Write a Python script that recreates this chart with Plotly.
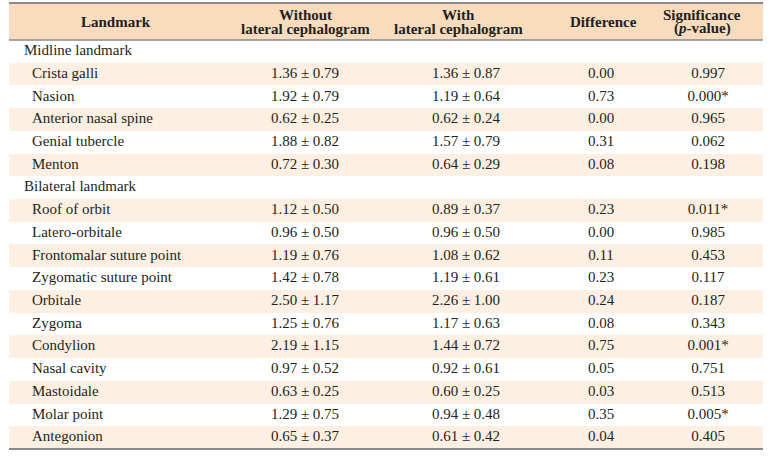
import plotly.graph_objects as go

headers = ["<b>Landmark</b>", "<b>Without<br>lateral cephalogram</b>",
           "<b>With<br>lateral cephalogram</b>", "<b>Difference</b>",
           "<b>Significance<br>(<i>p</i>-value)</b>"]

landmarks = ["Midline landmark", "Crista galli", "Nasion", "Anterior nasal spine",
             "Genial tubercle", "Menton", "Bilateral landmark", "Roof of orbit",
             "Latero-orbitale", "Frontomalar suture point", "Zygomatic suture point",
             "Orbitale", "Zygoma", "Condylion", "Nasal cavity", "Mastoidale",
             "Molar point", "Antegonion"]
is_group = [True, False, False, False, False, False, True, False, False, False,
            False, False, False, False, False, False, False, False]
without_ceph = ["", "1.36 ± 0.79", "1.92 ± 0.79", "0.62 ± 0.25", "1.88 ± 0.82", "0.72 ± 0.30",
                "", "1.12 ± 0.50", "0.96 ± 0.50", "1.19 ± 0.76", "1.42 ± 0.78", "2.50 ± 1.17",
                "1.25 ± 0.76", "2.19 ± 1.15", "0.97 ± 0.52", "0.63 ± 0.25", "1.29 ± 0.75",
                "0.65 ± 0.37"]
with_ceph = ["", "1.36 ± 0.87", "1.19 ± 0.64", "0.62 ± 0.24", "1.57 ± 0.79", "0.64 ± 0.29",
             "", "0.89 ± 0.37", "0.96 ± 0.50", "1.08 ± 0.62", "1.19 ± 0.61", "2.26 ± 1.00",
             "1.17 ± 0.63", "1.44 ± 0.72", "0.92 ± 0.61", "0.60 ± 0.25", "0.94 ± 0.48",
             "0.61 ± 0.42"]
difference = ["", "0.00", "0.73", "0.00", "0.31", "0.08", "", "0.23", "0.00", "0.11",
              "0.23", "0.24", "0.08", "0.75", "0.05", "0.03", "0.35", "0.04"]
p_values = ["", "0.997", "0.000*", "0.965", "0.062", "0.198", "", "0.011*", "0.985",
            "0.453", "0.117", "0.187", "0.343", "0.001*", "0.751", "0.513", "0.005*",
            "0.405"]

# ---- layout constants (pixels) ----
W, H = 771, 456
X0, X1 = 9, 763
TOP, HEAD, ROW_H = 3, 40, 22.72
N = len(landmarks)
BOT = HEAD + ROW_H * N
HEADER_BG = "#f8dcbd"
STRIPE = "#fdf0e3"
TEXT = "#231f20"
LINE = "#8a8a8a"
FONT = "Liberation Serif"
FS = 15
head_centres = [116, 305, 458, 603, 702]
data_centres = [305, 466, 601, 708]

rows = list(range(N))
# y axis in row units: row i centred at pixel HEAD + ROW_H*(i+0.5)
y_top = (0 - HEAD) / ROW_H - 0.5
y_bot = (H - HEAD) / ROW_H - 0.5

fig = go.Figure()

# striped row backgrounds
stripe_rows = [i for i in rows if i % 2 == 1]
fig.add_trace(go.Bar(
    y=stripe_rows, x=[X1 - X0] * len(stripe_rows), base=X0, orientation="h",
    width=1.0, marker=dict(color=STRIPE, line=dict(width=0)),
    hoverinfo="skip", showlegend=False))

# first column (landmark names), group rows slightly less indented
fig.add_trace(go.Scatter(
    x=[24 if g else 32 for g in is_group], y=rows, text=landmarks, mode="text",
    textposition="middle right", textfont=dict(family=FONT, size=FS, color=TEXT),
    hoverinfo="skip", showlegend=False))

for vals, cx in zip([without_ceph, with_ceph, difference, p_values], data_centres):
    fig.add_trace(go.Scatter(
        x=[cx] * N, y=rows, text=vals, mode="text", textposition="middle center",
        textfont=dict(family=FONT, size=FS, color=TEXT),
        hoverinfo="skip", showlegend=False))

annotations = []
for h, cx in zip(headers, head_centres):
    lines = h.replace("<b>", "").replace("</b>", "").split("<br>")
    ys = [22] if len(lines) == 1 else [15, 28.5]
    for ln, yp in zip(lines, ys):
        annotations.append(dict(text="<b>" + ln + "</b>", x=cx / W, y=1 - yp / H,
                                xref="paper", yref="paper", xanchor="center",
                                yanchor="middle", showarrow=False,
                                font=dict(family=FONT, size=FS, color=TEXT)))

fig.update_layout(
    width=W, height=H, margin=dict(l=0, r=0, t=0, b=0),
    paper_bgcolor="white", plot_bgcolor="white",
    xaxis=dict(range=[0, W], visible=False, fixedrange=True),
    yaxis=dict(range=[y_bot, y_top], visible=False, fixedrange=True),
    bargap=0,
    annotations=annotations,
    shapes=[
        dict(type="rect", xref="paper", yref="paper", x0=X0 / W, x1=X1 / W,
             y0=1 - HEAD / H, y1=1 - TOP / H, fillcolor=HEADER_BG,
             line=dict(width=0), layer="below"),
        dict(type="line", xref="paper", yref="paper", x0=X0 / W, x1=X1 / W,
             y0=1 - TOP / H, y1=1 - TOP / H, line=dict(color=LINE, width=2)),
        dict(type="line", xref="paper", yref="paper", x0=X0 / W, x1=X1 / W,
             y0=1 - HEAD / H, y1=1 - HEAD / H, line=dict(color=LINE, width=1.5)),
        dict(type="line", xref="paper", yref="paper", x0=X0 / W, x1=X1 / W,
             y0=1 - BOT / H, y1=1 - BOT / H, line=dict(color=LINE, width=2)),
    ],
)

fig.write_html("out.html", config={"displayModeBar": False},
               post_script="document.body.style.margin='0px';document.body.style.overflow='hidden';")
